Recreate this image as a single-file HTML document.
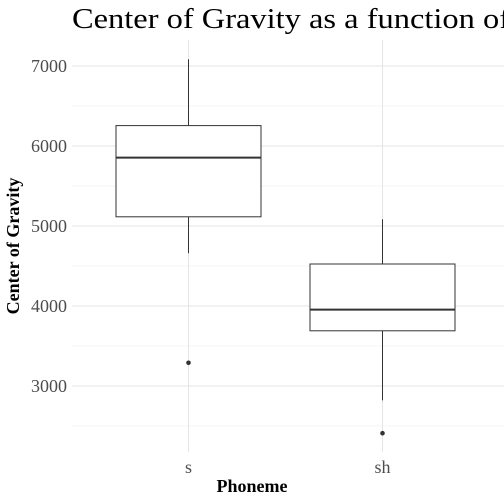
<!DOCTYPE html>
<html><head><meta charset="utf-8"><style>
html,body{margin:0;padding:0;background:#fff;}
svg{display:block;font-family:"Liberation Serif",serif;}
</style></head><body>
<svg id="chart" width="504" height="504" viewBox="0 0 504 504">
<text x="72" y="28" font-size="28.5" fill="#000" textLength="438" lengthAdjust="spacingAndGlyphs">Center of Gravity as a function of</text>
<g id="grid"></g>
<g id="boxes"></g>
<g id="yticks"></g>
<g id="xticks"></g>
<text x="252" y="492" font-size="18" font-weight="bold" text-anchor="middle">Phoneme</text>
<text transform="translate(19,246) rotate(-90)" font-size="18" font-weight="bold" text-anchor="middle">Center of Gravity</text>
</svg>
<script>
const categories = ["s","sh"];
const lowerWhisker = [4660, 2820];
const q1 = [5115, 3690];
const median = [5855, 3955];
const q3 = [6255, 4525];
const upperWhisker = [7085, 5085];
const outliers = [[3290], [2410]];
const yTicks = [3000, 4000, 5000, 6000, 7000];
const yMinor = [2500, 3500, 4500, 5500, 6500];

const NS = "http://www.w3.org/2000/svg";
const L = 72, R = 504, T = 40, B = 452;
function y(v){ return 306 - (v - 4000) * 0.08; }
const band = 194;
function x(i){ return 188.5 + band * i; }
function mk(tag, attrs, parent){ const e = document.createElementNS(NS, tag); for (const k in attrs) e.setAttribute(k, attrs[k]); parent.appendChild(e); return e; }
const grid = document.getElementById('grid'), boxes = document.getElementById('boxes'), yt = document.getElementById('yticks'), xt = document.getElementById('xticks');

yMinor.forEach(v => { const l = mk('line', {x1:L, x2:R, y1:y(v), y2:y(v), stroke:'#f0f0f0', 'stroke-width':0.8}, grid);
  
   });
yTicks.forEach(v => { const l = mk('line', {x1:L, x2:R, y1:y(v), y2:y(v), stroke:'#e5e5e5', 'stroke-width':1}, grid);
  
  
  const t = mk('text', {x:L-5, y:y(v)+6, 'font-size':18, fill:'#4d4d4d', 'text-anchor':'end'}, yt);
  t.textContent = v;
  
   });
categories.forEach((c, i) => {
  const l = mk('line', {x1:x(i), x2:x(i), y1:T, y2:B, stroke:'#e5e5e5', 'stroke-width':1}, grid);
  
  
  const t = mk('text', {x:x(i), y:473, 'font-size':18, fill:'#4d4d4d', 'text-anchor':'middle'}, xt);
  t.textContent = c;
  
  
  const g = mk('g', {}, boxes);
  
  
  const w = 145, cx = x(i);
  mk('line', {x1:cx, x2:cx, y1:y(upperWhisker[i]), y2:y(q3[i]), stroke:'#333', 'stroke-width':1}, g);
  mk('line', {x1:cx, x2:cx, y1:y(q1[i]), y2:y(lowerWhisker[i]), stroke:'#333', 'stroke-width':1}, g);
  mk('rect', {x:cx-w/2, y:y(q3[i]), width:w, height:y(q1[i])-y(q3[i]), fill:'#fff', stroke:'#333', 'stroke-width':1}, g);
  mk('line', {x1:cx-w/2, x2:cx+w/2, y1:y(median[i]), y2:y(median[i]), stroke:'#333', 'stroke-width':2}, g);
  outliers[i].forEach(o => { const p = mk('circle', {cx:cx, cy:y(o), r:2.3, fill:'#333'}, g);
    
     });
});
</script>
</body></html>
